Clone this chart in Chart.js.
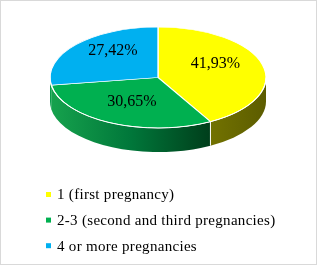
<!DOCTYPE html>
<html>
<head>
<meta charset="utf-8">
<script src="https://cdn.jsdelivr.net/npm/chart.js@4/dist/chart.umd.min.js"></script>
<style>
  html, body { margin: 0; padding: 0; background: #fff; }
  #wrap { width: 317px; height: 265px; position: relative; }
</style>
</head>
<body>
<div id="wrap"><canvas id="c" width="317" height="265"></canvas></div>
<script>
// ---- data ----
const categories = ['1 (first pregnancy)', '2-3 (second and third pregnancies)', '4 or more pregnancies'];
const shares = [41.93, 30.65, 27.42];
const topColors = ['#FFFF00', '#00B050', '#00B0F0'];
const sideColors = [['#727200', '#5c5c00'], ['#16a24d', '#00773a', '#003e1b'], ['#0a9c4a', '#0a9c4a']];

// ---- 3D look (geometry of the drawn ellipse) ----
const CX = 158, CY = 77.5, RX = 108, RY = 50.5, DEPTH = 24;

function fmt(v) { return v.toFixed(2).replace('.', ',') + '%'; }

const pie3d = {
  id: 'pie3d',
  beforeDatasetsDraw(chart) {
    const ctx = chart.ctx;
    const meta = chart.getDatasetMeta(0);
    // side walls (front half only: angles 0..PI)
    meta.data.forEach((arc, i) => {
      const a0 = Math.max(arc.startAngle, 0);
      const a1 = Math.min(arc.endAngle, Math.PI);
      if (a1 <= a0) return;
      ctx.save();
      ctx.beginPath();
      ctx.ellipse(CX, CY, RX, RY, 0, a0, a1, false);
      ctx.lineTo(CX + RX * Math.cos(a1), CY + DEPTH + RY * Math.sin(a1));
      ctx.ellipse(CX, CY + DEPTH, RX, RY, 0, a1, a0, true);
      ctx.closePath();
      const xL = CX + RX * Math.cos(a1), xR = CX + RX * Math.cos(a0);
      const g = ctx.createLinearGradient(Math.min(xL, xR), 0, Math.max(xL, xR), 0);
      const st = sideColors[i];
      st.forEach((c, k) => g.addColorStop(k / (st.length - 1), c));
      ctx.fillStyle = g;
      ctx.fill();
      ctx.restore();
    });
    // white separators on the wall
    ctx.save();
    ctx.strokeStyle = '#ffffff';
    ctx.lineWidth = 1;
    meta.data.forEach((arc, i) => {
      const a = arc.endAngle;
      if (i === 0 && a > 0 && a < Math.PI) {
        const x = CX + RX * Math.cos(a), y = CY + RY * Math.sin(a);
        ctx.beginPath();
        ctx.moveTo(x, y);
        ctx.lineTo(x, y + DEPTH);
        ctx.stroke();
      }
    });
    ctx.restore();
    // squash the circular pie into the top ellipse
    const a = meta.data[0];
    const R = a.outerRadius;
    ctx.save();
    ctx.translate(CX, CY);
    ctx.scale(RX / R, RY / R);
    ctx.translate(-a.x, -a.y);
  },
  afterDatasetsDraw(chart) {
    const ctx = chart.ctx;
    ctx.restore();
    // white front rim
    ctx.save();
    ctx.strokeStyle = '#ffffff';
    ctx.lineWidth = 1;
    ctx.beginPath();
    ctx.ellipse(CX, CY, RX, RY, 0, 0, Math.PI, false);
    ctx.stroke();
    ctx.restore();
    // value labels
    const meta = chart.getDatasetMeta(0);
    ctx.save();
    ctx.font = '16px "Liberation Serif", "Times New Roman", serif';
    ctx.fillStyle = '#000';
    ctx.textAlign = 'center';
    ctx.textBaseline = 'middle';
    meta.data.forEach((arc, i) => {
      const mid = (arc.startAngle + arc.endAngle) / 2;
      const x = CX + RX * 0.55 * Math.cos(mid);
      const y = CY + RY * 0.65 * Math.sin(mid) - 5;
      ctx.fillText(fmt(shares[i]), x, y);
    });
    ctx.restore();
  },
  afterDraw(chart) {
    const ctx = chart.ctx;
    ctx.save();
    // legend
    ctx.font = '15px "Liberation Serif", "Times New Roman", serif';
    try { ctx.letterSpacing = '0.3px'; } catch (e) {}
    ctx.textBaseline = 'middle';
    ctx.textAlign = 'left';
    categories.forEach((c, i) => {
      const y = 194.5 + i * 25.6;
      ctx.fillStyle = topColors[i];
      ctx.fillRect(46, y - 2.5, 5, 5);
      ctx.fillStyle = '#000';
      ctx.fillText(c, 57, y + 1);
    });
    // outer frame
    try { ctx.letterSpacing = '0px'; } catch (e) {}
    ctx.strokeStyle = '#d9d9d9';
    ctx.lineWidth = 1;
    ctx.strokeRect(0.5, 0.5, 316, 264);
    ctx.restore();
  }
};

new Chart(document.getElementById('c'), {
  type: 'pie',
  data: {
    labels: categories,
    datasets: [{
      data: shares,
      backgroundColor: topColors,
      borderColor: '#ffffff',
      borderWidth: 1.6,
      clip: false
    }]
  },
  options: {
    responsive: false,
    animation: false,
    events: [],
    layout: { padding: 0 },
    plugins: {
      legend: { display: false },
      tooltip: { enabled: false }
    }
  },
  plugins: [pie3d]
});
</script>
</body>
</html>
